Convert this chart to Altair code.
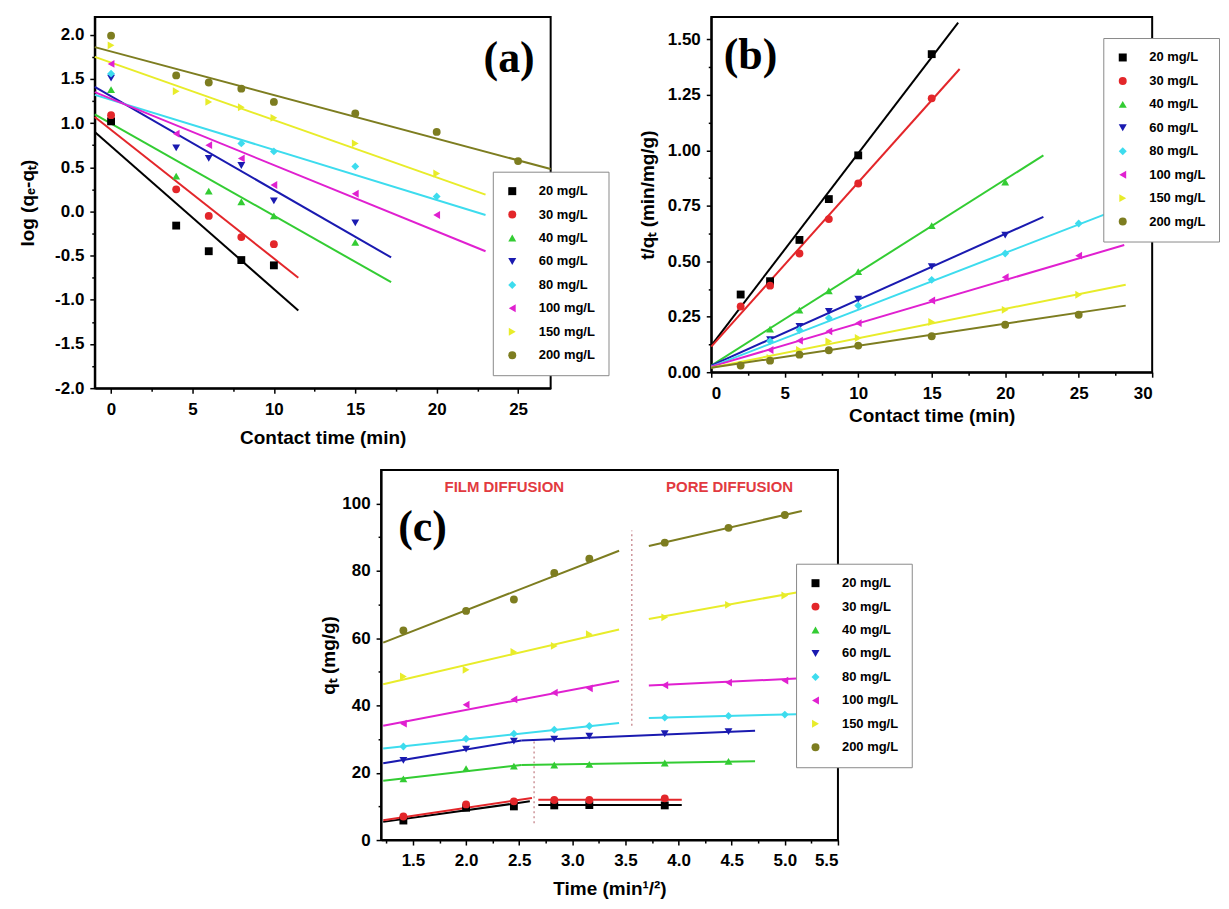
import altair as alt
import pandas as pd

# ---------------- shared series info ----------------
conc = ["20 mg/L", "30 mg/L", "40 mg/L", "60 mg/L", "80 mg/L", "100 mg/L", "150 mg/L", "200 mg/L"]
colors = ["#000000", "#e3262a", "#33cc33", "#1a1ab0", "#3ddcee", "#e020d0", "#e8ec2a", "#7d7d20"]
shapes = ["square", "circle", "triangle-up", "triangle-down", "diamond", "triangle-left", "triangle-right", "circle"]

# ---------------- panel (a): pseudo-first-order ----------------
a_t = [0, 4, 6, 8, 10, 15, 20, 25]
a_20 = [1.02, -0.16, -0.45, -0.55, -0.61, None, None, None]
a_30 = [1.09, 0.25, -0.05, -0.29, -0.37, None, None, None]
a_40 = [1.38, 0.40, 0.23, 0.11, -0.05, -0.35, None, None]
a_60 = [1.51, 0.72, 0.60, 0.52, 0.12, -0.13, None, None]
a_80 = [1.56, None, None, 0.77, 0.68, 0.51, 0.17, None]
a_100 = [1.67, 0.88, 0.75, 0.60, 0.30, 0.20, -0.04, None]
a_150 = [1.88, 1.36, 1.24, 1.18, 1.06, 0.77, 0.43, None]
a_200 = [1.99, 1.54, 1.46, 1.39, 1.24, 1.11, 0.90, 0.57]
a_fit_x0 = [-1, -1, -1, -1, -1, -1, -1, -1]
a_fit_x1 = [11.5, 11.5, 17.2, 17.2, 23.0, 23.0, 23.0, 27.0]
a_fit_y0 = [0.90, 1.07, 1.10, 1.41, 1.32, 1.35, 1.75, 1.86]
a_fit_y1 = [-1.12, -0.75, -0.80, -0.52, -0.04, -0.45, 0.19, 0.48]

# ---------------- panel (b): pseudo-second-order ----------------
b_t = [2, 4, 6, 8, 10, 15, 20, 25]
b_20 = [0.35, 0.41, 0.596, 0.78, 0.977, 1.433, None, None]
b_30 = [0.296, 0.39, 0.535, 0.69, 0.85, 1.234, None, None]
b_40 = [None, 0.194, 0.28, 0.367, 0.453, 0.66, 0.857, None]
b_60 = [None, 0.147, 0.206, 0.274, 0.329, 0.476, 0.618, None]
b_80 = [None, 0.14, 0.19, 0.244, 0.30, 0.416, 0.535, 0.67]
b_100 = [None, 0.10, 0.142, 0.184, 0.221, 0.323, 0.428, 0.525]
b_150 = [None, 0.064, 0.10, 0.139, 0.154, 0.226, 0.281, 0.349]
b_200 = [0.03, 0.052, 0.079, 0.099, 0.12, 0.162, 0.214, 0.259]
b_fit_x0 = [0, 0, 0, 0, 0, 0, 0, 0]
b_fit_x1 = [16.8, 16.9, 22.6, 22.6, 28.1, 28.1, 28.2, 28.2]
b_fit_y0 = [0.12, 0.115, 0.03, 0.03, 0.025, 0.025, 0.02, 0.02]
b_fit_y1 = [1.575, 1.366, 0.977, 0.70, 0.745, 0.573, 0.394, 0.30]

# ---------------- panel (c): intraparticle diffusion ----------------
c_x = [1.41, 2.0, 2.45, 2.83, 3.16, 3.87, 4.47, 5.0]
c_20 = [5.8, 9.6, 10.0, 10.3, 10.4, 10.3, None, None]
c_30 = [7.0, 10.6, 11.5, 11.9, 11.9, 12.4, None, None]
c_40 = [18.2, 21.2, 22.0, 22.3, 22.5, 22.9, 23.4, None]
c_60 = [23.7, 27.0, 29.4, 30.0, 30.9, 31.6, 32.2, None]
c_80 = [27.8, 30.1, 31.6, 32.8, 33.9, 36.4, 36.9, 37.3]
c_100 = [34.6, 40.2, 41.8, 43.8, 45.1, 46.0, 46.8, 47.4]
c_150 = [48.6, 50.6, 55.9, 57.7, 61.2, 66.2, 69.9, 72.7]
c_200 = [62.3, 68.1, 71.5, 79.4, 83.6, 88.4, 92.8, 96.6]
c_film_x0 = [1.22, 1.22, 1.22, 1.22, 1.22, 1.22, 1.22, 1.22]
c_film_x1 = [2.60, 2.62, 2.52, 2.52, 3.44, 3.44, 3.44, 3.44]
c_film_y0 = [5.4, 5.9, 17.6, 22.8, 27.2, 34.0, 46.3, 58.7]
c_film_y1 = [11.5, 12.5, 22.3, 29.6, 34.8, 47.3, 62.6, 86.0]
c_pore_x0 = [2.68, 2.68, 2.52, 2.52, 3.72, 3.72, 3.72, 3.72]
c_pore_x1 = [4.03, 4.03, 4.72, 4.72, 5.11, 5.11, 5.11, 5.16]
c_pore_y0 = [10.4, 12.0, 22.3, 29.6, 36.3, 45.9, 65.7, 87.4]
c_pore_y1 = [10.4, 12.0, 23.4, 32.5, 37.4, 48.0, 73.6, 97.8]
c_div_x = [3.56, 2.64]
c_div_y0 = [34, 5]
c_div_y1 = [92, 30]
c_note_text = ["FILM DIFFUSION", "PORE DIFFUSION"]
c_note_x = [2.36, 4.48]
c_note_y = [105, 105]

# panel tags
tag_text = ["(a)", "(b)", "(c)"]
tag_x = [24.45, 2.67, 1.59]
tag_y = [1.73, 1.426, 92.6]

FONT = "Liberation Sans"


def points_frame(xs, series):
    rows = []
    for name, vals in zip(conc, series):
        for x, v in zip(xs, vals):
            if v is not None:
                rows.append({"x": x, "y": v, "conc": name})
    return pd.DataFrame(rows)


def fits_frame(segs):
    rows = []
    for x0s, x1s, y0s, y1s, tag in segs:
        for name, col, x0, x1, y0, y1 in zip(conc, colors, x0s, x1s, y0s, y1s):
            rows.append({"x": x0, "y": y0, "conc": name, "col": col, "seg": name + tag})
            rows.append({"x": x1, "y": y1, "conc": name, "col": col, "seg": name + tag})
    return pd.DataFrame(rows)


def lab_expr(fmt):
    return "replace(format(datum.value, '" + fmt + "'), '\u2212', '-')"


def panel(pts, fits, xdom, ydom, w, h, xmaj, xmin, ymaj, ymin, xfmt, yfmt,
          xtitle, ytitle, xtitle_y, ytitle_x, legx, legy, tag_i, extra=None):
    xs = alt.Scale(domain=xdom, nice=False, zero=False)
    ys = alt.Scale(domain=ydom, nice=False, zero=False)
    cscale = alt.Scale(domain=conc, range=colors)
    sscale = alt.Scale(domain=conc, range=shapes)
    leg = alt.Legend(orient="none", legendX=legx, legendY=legy, title=None,
                     labelFont=FONT, labelFontWeight="bold", labelFontSize=13,
                     labelColor="black", symbolSize=64, padding=13, rowPadding=9.5,
                     labelOffset=20, strokeColor="#8a8a8a", fillColor="white",
                     symbolStrokeWidth=0)
    lines = alt.Chart(fits).mark_line(strokeWidth=2).encode(
        x=alt.X("x:Q", scale=xs, axis=alt.Axis(values=xmin, labels=False, domain=False,
                                               tickSize=3, title=None, orient="bottom", grid=False)),
        y=alt.Y("y:Q", scale=ys, axis=alt.Axis(values=ymin, labels=False, domain=False,
                                               tickSize=3, title=None, orient="left", grid=False)),
        stroke=alt.Stroke("col:N", scale=None),
        detail="seg:N",
    )
    points = alt.Chart(pts).mark_point(filled=True, size=62, opacity=1, strokeWidth=0).encode(
        x=alt.X("x:Q", scale=xs, axis=alt.Axis(
            values=xmaj, labelExpr=lab_expr(xfmt), title=xtitle, orient="bottom",
            tickSize=5, labelPadding=8, titleX=w / 2, titleY=xtitle_y,
            titleAlign="center", titleBaseline="middle", grid=False)),
        y=alt.Y("y:Q", scale=ys, axis=alt.Axis(
            values=ymaj, labelExpr=lab_expr(yfmt), title=ytitle, orient="left",
            tickSize=5, labelPadding=6, titleX=ytitle_x, titleY=h / 2, titleAngle=270,
            titleAlign="center", titleBaseline="middle", grid=False)),
        color=alt.Color("conc:N", scale=cscale, legend=leg),
        shape=alt.Shape("conc:N", scale=sscale, legend=leg),
    )
    tag_df = pd.DataFrame({"x": [tag_x[tag_i]], "y": [tag_y[tag_i]], "t": [tag_text[tag_i]]})
    tag = alt.Chart(tag_df).mark_text(font="Liberation Serif", fontWeight="bold", fontSize=44,
                                      color="black", align="center", baseline="middle").encode(
        x=alt.X("x:Q", scale=xs, axis=None), y=alt.Y("y:Q", scale=ys, axis=None), text="t:N")
    layers = [lines, points, tag]
    if extra:
        layers = [extra(xs, ys)] + layers
    return alt.layer(*layers).resolve_axis(x="independent", y="independent").properties(
        width=w, height=h, view=alt.ViewBackground(stroke="black", strokeWidth=2))


pts_a = points_frame(a_t, [a_20, a_30, a_40, a_60, a_80, a_100, a_150, a_200])
fit_a = fits_frame([(a_fit_x0, a_fit_x1, a_fit_y0, a_fit_y1, "f")])
chart_a = panel(pts_a, fit_a, [-1, 27], [-2.0, 2.2], 457, 372,
                [0, 5, 10, 15, 20, 25], [2.5, 7.5, 12.5, 17.5, 22.5],
                [-2.0, -1.5, -1.0, -0.5, 0.0, 0.5, 1.0, 1.5, 2.0],
                [-1.75, -1.25, -0.75, -0.25, 0.25, 0.75, 1.25, 1.75],
                "d", ".1f", "Contact time (min)", "log (q\u2091-q\u209c)", 49, -67, 399, 155, 0)

pts_b = points_frame(b_t, [b_20, b_30, b_40, b_60, b_80, b_100, b_150, b_200])
fit_b = fits_frame([(b_fit_x0, b_fit_x1, b_fit_y0, b_fit_y1, "f")])
chart_b = panel(pts_b, fit_b, [0, 30], [0, 1.6], 442, 356,
                [0, 5, 10, 15, 20, 25, 30], [2.5, 7.5, 12.5, 17.5, 22.5, 27.5],
                [0, 0.25, 0.5, 0.75, 1.0, 1.25, 1.5],
                [0.125, 0.375, 0.625, 0.875, 1.125, 1.375],
                "d", ".2f", "Contact time (min)", "t/q\u209c (min/mg/g)", 43, -64, 393, 21, 1)


def c_extra(xs, ys):
    div_df = pd.DataFrame({"x": c_div_x, "y0": c_div_y0, "y1": c_div_y1})
    rules = alt.Chart(div_df).mark_rule(color="#c07a80", strokeWidth=1.2, strokeDash=[2, 3]).encode(
        x=alt.X("x:Q", scale=xs, axis=None), y=alt.Y("y0:Q", scale=ys, axis=None), y2="y1:Q")
    note_df = pd.DataFrame({"x": c_note_x, "y": c_note_y, "t": c_note_text})
    notes = alt.Chart(note_df).mark_text(font=FONT, fontWeight="bold", fontSize=15, color="#e23a3f",
                                         align="center", baseline="middle").encode(
        x=alt.X("x:Q", scale=xs, axis=None), y=alt.Y("y:Q", scale=ys, axis=None), text="t:N")
    return alt.layer(rules, notes)


pts_c = points_frame(c_x, [c_20, c_30, c_40, c_60, c_80, c_100, c_150, c_200])
fit_c = fits_frame([(c_film_x0, c_film_x1, c_film_y0, c_film_y1, "film"),
                    (c_pore_x0, c_pore_x1, c_pore_y0, c_pore_y1, "pore")])
chart_c = panel(pts_c, fit_c, [1.2, 5.5], [0, 110], 458, 371,
                [1.5, 2.0, 2.5, 3.0, 3.5, 4.0, 4.5, 5.0, 5.5],
                [1.25, 1.75, 2.25, 2.75, 3.25, 3.75, 4.25, 4.75, 5.25],
                [0, 20, 40, 60, 80, 100], [10, 30, 50, 70, 90],
                ".1f", "d", "Time (min\u00b9/\u00b2)", "q\u209c (mg/g)", 49, -53, 416, 94, 2,
                extra=c_extra)

spacer = alt.Chart(pd.DataFrame({"s": [0]})).mark_point(opacity=0).encode(
    x=alt.X("s:Q", axis=None), y=alt.Y("s:Q", axis=None)).properties(
    width=223, height=10, view=alt.ViewBackground(stroke=None))

IND = dict(x="independent", y="independent", color="independent", shape="independent")

top = alt.hconcat(chart_a, chart_b, spacing=27).resolve_scale(**IND).resolve_legend(
    color="independent", shape="independent")
bottom = alt.hconcat(spacer, chart_c, spacing=1).resolve_scale(**IND).resolve_legend(
    color="independent", shape="independent")

chart = alt.vconcat(top, bottom, spacing=21).resolve_scale(**IND).resolve_legend(
    color="independent", shape="independent").properties(
    padding={"left": 10, "top": 7, "right": 0, "bottom": 0}, background="white"
).configure_view(stroke=None).configure_axis(
    labelFont=FONT, labelFontSize=17, labelFontWeight="bold", labelColor="black",
    titleFont=FONT, titleFontSize=19, titleFontWeight="bold", titleColor="black",
    domainColor="black", domainWidth=2, tickColor="black", tickWidth=1.5, grid=False
)

chart.save("out.html", embed_options={"renderer": "svg", "actions": False})
